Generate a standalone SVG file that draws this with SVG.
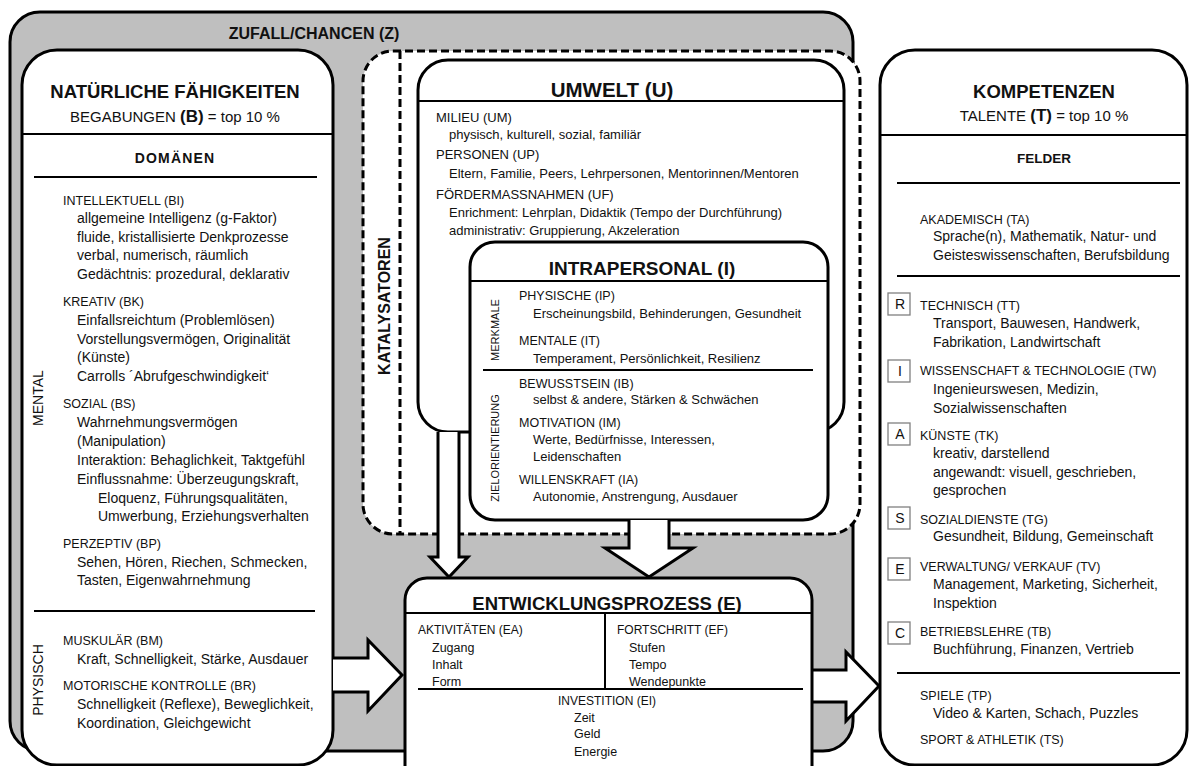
<svg xmlns="http://www.w3.org/2000/svg" width="1189" height="766" viewBox="0 0 1189 766">
<style>
text{font-family:"Liberation Sans",Arial,sans-serif;fill:#111}
.box{fill:#fff;stroke:#000;stroke-width:3}
.dash{fill:#fff;stroke:#000;stroke-width:3;stroke-dasharray:8 4}
.ln{stroke:#000;stroke-width:2;fill:none}
.arr{fill:#fff;stroke:#000;stroke-width:3;stroke-linejoin:miter}
.t1{font-size:18.5px;font-weight:bold;text-anchor:middle}
.t2{font-size:15px;text-anchor:middle}
.tb{font-weight:bold;font-size:17px}
.dom{font-size:14px;font-weight:bold;text-anchor:middle;letter-spacing:1.2px}
.lh{font-size:12.5px}
.ls{font-size:14px}
.u{font-size:13px}
.ih{font-size:12.5px}
.is{font-size:13px}
.eh{font-size:12px}
.es{font-size:12.5px}
.vl{font-size:14px;text-anchor:middle;dominant-baseline:central}
.vs{font-size:11px;text-anchor:middle;dominant-baseline:central}
.sq{fill:#fff;stroke:#808080;stroke-width:1.3}
.sql{font-size:14px;text-anchor:middle}
</style>

<g id="zufall">
<rect x="10" y="12" width="843" height="739" rx="30" fill="#bfbfbf" stroke="#000" stroke-width="3"/>
<text x="314" y="39" style="font-size:16px;font-weight:bold;text-anchor:middle">ZUFALL/CHANCEN (Z)</text>
</g>

<g id="begabungen">
<rect class="box" x="22" y="50" width="311" height="715" rx="35"/>
<text class="t1" x="175" y="98">NATÜRLICHE FÄHIGKEITEN</text>
<text class="t2" x="175" y="121.5">BEGABUNGEN <tspan class="tb">(B)</tspan> = top 10 %</text>
<line class="ln" x1="22" y1="134" x2="333" y2="134"/>
<text class="dom" x="175" y="163">DOMÄNEN</text>
<line class="ln" x1="34" y1="177" x2="317" y2="177"/>
<text class="vl" transform="translate(38,398) rotate(-90)">MENTAL</text>
<text class="vl" transform="translate(38,680) rotate(-90)">PHYSISCH</text>
<text class="lh" x="63" y="205">INTELLEKTUELL (BI)</text>
<text class="ls" x="77" y="223">allgemeine Intelligenz (g-Faktor)</text>
<text class="ls" x="77" y="241.5">fluide, kristallisierte Denkprozesse</text>
<text class="ls" x="77" y="260">verbal, numerisch, räumlich</text>
<text class="ls" x="77" y="278.5">Gedächtnis: prozedural, deklarativ</text>
<text class="lh" x="63" y="306">KREATIV (BK)</text>
<text class="ls" x="77" y="324.5">Einfallsreichtum (Problemlösen)</text>
<text class="ls" x="77" y="343.5">Vorstellungsvermögen, Originalität</text>
<text class="ls" x="77" y="362">(Künste)</text>
<text class="ls" x="77" y="381">Carrolls ´Abrufgeschwindigkeit‘</text>
<text class="lh" x="63" y="407.5">SOZIAL (BS)</text>
<text class="ls" x="77" y="426.5">Wahrnehmungsvermögen</text>
<text class="ls" x="77" y="445.5">(Manipulation)</text>
<text class="ls" x="77" y="464.5">Interaktion: Behaglichkeit, Taktgefühl</text>
<text class="ls" x="77" y="483.5">Einflussnahme: Überzeugungskraft,</text>
<text class="ls" x="98" y="502.5">Eloquenz, Führungsqualitäten,</text>
<text class="ls" x="98" y="521">Umwerbung, Erziehungsverhalten</text>
<text class="lh" x="63" y="547.5">PERZEPTIV (BP)</text>
<text class="ls" x="77" y="566.5">Sehen, Hören, Riechen, Schmecken,</text>
<text class="ls" x="77" y="585">Tasten, Eigenwahrnehmung</text>
<line class="ln" x1="34" y1="611" x2="315" y2="611"/>
<text class="lh" x="63" y="645">MUSKULÄR (BM)</text>
<text class="ls" x="77" y="663.5">Kraft, Schnelligkeit, Stärke, Ausdauer</text>
<text class="lh" x="63" y="689.5">MOTORISCHE KONTROLLE (BR)</text>
<text class="ls" x="77" y="708.5">Schnelligkeit (Reflexe), Beweglichkeit,</text>
<text class="ls" x="77" y="727.5">Koordination, Gleichgewicht</text>
</g>

<g id="katalysatoren">
<rect class="dash" x="363" y="51" width="497" height="483" rx="30"/>
<line x1="400" y1="51" x2="400" y2="534" stroke="#000" stroke-width="3" stroke-dasharray="8 4"/>
<text transform="translate(384,306) rotate(-90)" style="font-size:16px;font-weight:bold;text-anchor:middle;dominant-baseline:central">KATALYSATOREN</text>
</g>

<g id="umwelt">
<rect class="box" x="418" y="60" width="426" height="372" rx="30"/>
<text class="t1" x="612" y="97" style="font-size:20.5px">UMWELT (U)</text>
<line class="ln" x1="418" y1="101" x2="844" y2="101"/>
<text class="u" x="436" y="121.5">MILIEU (UM)</text>
<text class="u" x="449" y="138.5">physisch, kulturell, sozial, familiär</text>
<text class="u" x="436" y="158.5">PERSONEN (UP)</text>
<text class="u" x="449" y="177.5">Eltern, Familie, Peers, Lehrpersonen, Mentorinnen/Mentoren</text>
<text class="u" x="436" y="199">FÖRDERMASSNAHMEN (UF)</text>
<text class="u" x="449" y="216.5">Enrichment: Lehrplan, Didaktik (Tempo der Durchführung)</text>
<text class="u" x="449" y="234.5">administrativ: Gruppierung, Akzeleration</text>
</g>

<g id="connectors">
<path class="arr" d="M438,432 L438,557 L430,557 L449,577 L468,557 L459,557 L459,432"/>
</g>

<g id="intrapersonal">
<rect class="box" x="470" y="242" width="358" height="278" rx="25"/>
<text class="t1" x="642" y="275" style="font-size:19px">INTRAPERSONAL (I)</text>
<line class="ln" x1="470" y1="281" x2="828" y2="281"/>
<text class="vs" transform="translate(495,330) rotate(-90)">MERKMALE</text>
<text class="vs" transform="translate(495,448) rotate(-90)">ZIELORIENTIERUNG</text>
<text class="ih" x="519" y="299.5">PHYSISCHE (IP)</text>
<text class="is" x="533" y="317.5">Erscheinungsbild, Behinderungen, Gesundheit</text>
<text class="ih" x="519" y="345">MENTALE (IT)</text>
<text class="is" x="533" y="362.5">Temperament, Persönlichkeit, Resilienz</text>
<line class="ln" x1="483" y1="370" x2="813" y2="370"/>
<text class="ih" x="519" y="387.5">BEWUSSTSEIN (IB)</text>
<text class="is" x="533" y="404">selbst &amp; andere, Stärken &amp; Schwächen</text>
<text class="ih" x="519" y="426.5">MOTIVATION (IM)</text>
<text class="is" x="533" y="444">Werte, Bedürfnisse, Interessen,</text>
<text class="is" x="533" y="461">Leidenschaften</text>
<text class="ih" x="519" y="483.5">WILLENSKRAFT (IA)</text>
<text class="is" x="533" y="500.5">Autonomie, Anstrengung, Ausdauer</text>
</g>

<g id="connectors2">
<path class="arr" d="M629,520 L629,548 L605,548 L649,577 L693,548 L669,548 L669,520"/>
<path class="arr" d="M333,658 L368,658 L368,640 L402,675 L368,711 L368,692 L333,692"/>
<path class="arr" d="M812,670 L846,670 L846,652 L879,686 L846,721 L846,702 L812,702"/>
</g>

<g id="entwicklungsprozess">
<rect class="box" x="405" y="578" width="407" height="230" rx="22"/>
<text class="t1" x="607" y="610">ENTWICKLUNGSPROZESS (E)</text>
<line class="ln" x1="405" y1="613" x2="812" y2="613"/>
<line class="ln" x1="605" y1="614" x2="605" y2="689"/>
<line class="ln" x1="418" y1="689" x2="803" y2="689"/>
<text class="eh" x="418" y="634">AKTIVITÄTEN (EA)</text>
<text class="es" x="432" y="651.5">Zugang</text>
<text class="es" x="432" y="669">Inhalt</text>
<text class="es" x="432" y="685.5">Form</text>
<text class="eh" x="617" y="634">FORTSCHRITT (EF)</text>
<text class="es" x="629" y="651.5">Stufen</text>
<text class="es" x="629" y="669">Tempo</text>
<text class="es" x="629" y="685.5">Wendepunkte</text>
<text class="eh" x="607" y="705" style="text-anchor:middle">INVESTITION (EI)</text>
<text class="es" x="574" y="721.5">Zeit</text>
<text class="es" x="574" y="738">Geld</text>
<text class="es" x="574" y="755.5">Energie</text>
</g>

<g id="kompetenzen">
<rect class="box" x="880" y="50" width="307" height="715" rx="35"/>
<text class="t1" x="1044" y="97.5">KOMPETENZEN</text>
<text class="t2" x="1044" y="120.5">TALENTE <tspan class="tb">(T)</tspan> = top 10 %</text>
<line class="ln" x1="880" y1="135" x2="1187" y2="135"/>
<text x="1044" y="163" style="font-size:13.5px;font-weight:bold;text-anchor:middle">FELDER</text>
<line class="ln" x1="897" y1="183" x2="1180" y2="183"/>
<text class="lh" x="920" y="223.5">AKADEMISCH (TA)</text>
<text class="ls" x="933" y="241">Sprache(n), Mathematik, Natur- und</text>
<text class="ls" x="933" y="260">Geisteswissenschaften, Berufsbildung</text>
<line class="ln" x1="897" y1="276" x2="1180" y2="276"/>
<rect class="sq" x="888" y="293" width="22" height="22"/>
<text class="sql" x="900" y="309">R</text>
<text class="lh" x="920" y="309.5">TECHNISCH (TT)</text>
<text class="ls" x="933" y="327.5">Transport, Bauwesen, Handwerk,</text>
<text class="ls" x="933" y="346.5">Fabrikation, Landwirtschaft</text>
<rect class="sq" x="888" y="360" width="22" height="22"/>
<text class="sql" x="900" y="376">I</text>
<text class="lh" x="920" y="374.5">WISSENSCHAFT &amp; TECHNOLOGIE (TW)</text>
<text class="ls" x="933" y="393.5">Ingenieurswesen, Medizin,</text>
<text class="ls" x="933" y="412.5">Sozialwissenschaften</text>
<rect class="sq" x="888" y="423" width="22" height="22"/>
<text class="sql" x="900" y="439">A</text>
<text class="lh" x="920" y="439.5">KÜNSTE (TK)</text>
<text class="ls" x="933" y="457.5">kreativ, darstellend</text>
<text class="ls" x="933" y="476.5">angewandt: visuell, geschrieben,</text>
<text class="ls" x="933" y="495">gesprochen</text>
<rect class="sq" x="888" y="507" width="22" height="22"/>
<text class="sql" x="900" y="523">S</text>
<text class="lh" x="920" y="523.5">SOZIALDIENSTE (TG)</text>
<text class="ls" x="933" y="541">Gesundheit, Bildung, Gemeinschaft</text>
<rect class="sq" x="888" y="558" width="22" height="22"/>
<text class="sql" x="900" y="574">E</text>
<text class="lh" x="920" y="570.5">VERWALTUNG/ VERKAUF (TV)</text>
<text class="ls" x="933" y="588.5">Management, Marketing, Sicherheit,</text>
<text class="ls" x="933" y="607.5">Inspektion</text>
<rect class="sq" x="888" y="622" width="22" height="22"/>
<text class="sql" x="900" y="638">C</text>
<text class="lh" x="920" y="635.5">BETRIEBSLEHRE (TB)</text>
<text class="ls" x="933" y="653.5">Buchführung, Finanzen, Vertrieb</text>
<line class="ln" x1="897" y1="673" x2="1180" y2="673"/>
<text class="lh" x="920" y="699.5">SPIELE (TP)</text>
<text class="ls" x="933" y="717.5">Video &amp; Karten, Schach, Puzzles</text>
<text class="lh" x="920" y="744">SPORT &amp; ATHLETIK (TS)</text>
</g>
</svg>
